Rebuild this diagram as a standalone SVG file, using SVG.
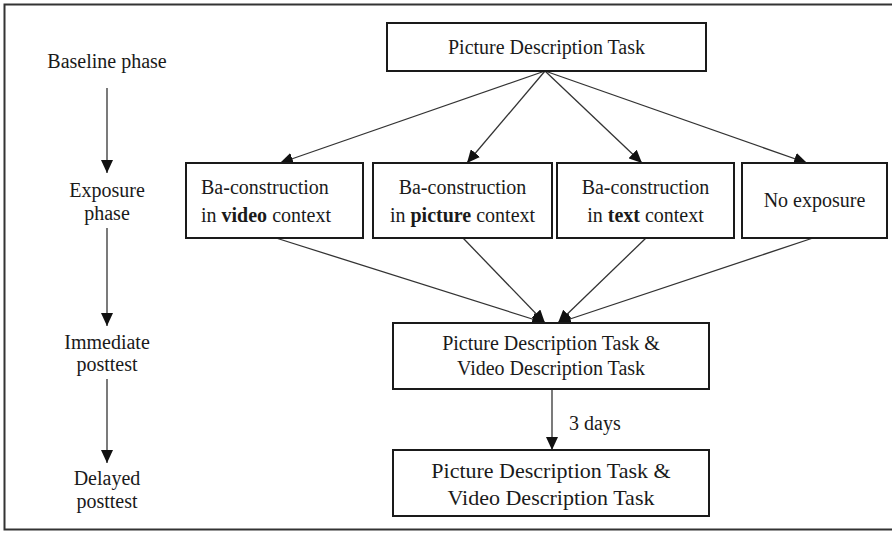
<svg xmlns="http://www.w3.org/2000/svg" width="892" height="533" viewBox="0 0 892 533">
<style>
.box{fill:#fff;stroke:#1a1a1a;stroke-width:2}
.t{font-family:"Liberation Serif","Times New Roman",serif;font-size:20px;fill:#1a1a1a}
.m{text-anchor:middle}
.c{stroke:#333;stroke-width:1.3;fill:none;marker-end:url(#ah)}
</style>
<defs>
<marker id="ah" markerUnits="userSpaceOnUse" markerWidth="14" markerHeight="12" viewBox="0 0 14 12" refX="13" refY="6" orient="auto">
<path d="M0,0 L13,6 L0,12 Z" fill="#111"/>
</marker>
</defs>
<rect x="0" y="0" width="892" height="533" fill="#fff"/>
<rect x="4.5" y="4.5" width="900" height="525" fill="none" stroke="#333" stroke-width="2"/>

<g id="label-baseline"><text class="t m" x="107" y="68">Baseline phase</text></g>
<g id="label-exposure"><text class="t m" x="107" y="197">Exposure</text><text class="t m" x="107" y="220">phase</text></g>
<g id="label-immediate"><text class="t m" x="107" y="349">Immediate</text><text class="t m" x="107" y="371">posttest</text></g>
<g id="label-delayed"><text class="t m" x="107" y="485">Delayed</text><text class="t m" x="107" y="508">posttest</text></g>

<g id="connectors">
<line class="c" x1="107" y1="88" x2="107" y2="173"/>
<line class="c" x1="107" y1="228" x2="107" y2="326"/>
<line class="c" x1="107" y1="379" x2="107" y2="463"/>
<line class="c" x1="545" y1="71" x2="280" y2="163"/>
<line class="c" x1="545" y1="71" x2="467" y2="163"/>
<line class="c" x1="545" y1="71" x2="642" y2="163"/>
<line class="c" x1="545" y1="71" x2="807" y2="163"/>
<line class="c" x1="276" y1="238" x2="545" y2="323"/>
<line class="c" x1="463" y1="238" x2="545" y2="323"/>
<line class="c" x1="646" y1="238" x2="558" y2="323"/>
<line class="c" x1="813" y1="238" x2="558" y2="323"/>
<line class="c" x1="552" y1="389" x2="552" y2="450"/>
<text class="t" x="569" y="430">3 days</text>
</g>

<g id="baseline-task">
<rect class="box" x="387" y="23" width="319" height="48"/>
<text class="t m" x="546.5" y="54">Picture Description Task</text>
</g>

<g id="video">
<rect class="box" x="186" y="163" width="177" height="75"/>
<text class="t" x="201" y="194">Ba-construction</text>
<text class="t" x="201" y="222">in <tspan font-weight="bold">video</tspan> context</text>
</g>

<g id="picture">
<rect class="box" x="373" y="163" width="179" height="75"/>
<text class="t m" x="462.5" y="194">Ba-construction</text>
<text class="t m" x="462.5" y="222">in <tspan font-weight="bold">picture</tspan> context</text>
</g>

<g id="text">
<rect class="box" x="557" y="163" width="177" height="75"/>
<text class="t m" x="645.5" y="194">Ba-construction</text>
<text class="t m" x="645.5" y="222">in <tspan font-weight="bold">text</tspan> context</text>
</g>

<g id="noexposure">
<rect class="box" x="742" y="163" width="145" height="75"/>
<text class="t m" x="814.5" y="207">No exposure</text>
</g>

<g id="immediate">
<rect class="box" x="393" y="323" width="316" height="66"/>
<text class="t m" x="551" y="350">Picture Description Task &amp;</text>
<text class="t m" x="551" y="375">Video Description Task</text>
</g>

<g id="delayed">
<rect class="box" x="393" y="450" width="316" height="66"/>
<text class="t m" x="551" y="478" style="font-size:22px">Picture Description Task &amp;</text>
<text class="t m" x="551" y="505" style="font-size:22px">Video Description Task</text>
</g>
</svg>
